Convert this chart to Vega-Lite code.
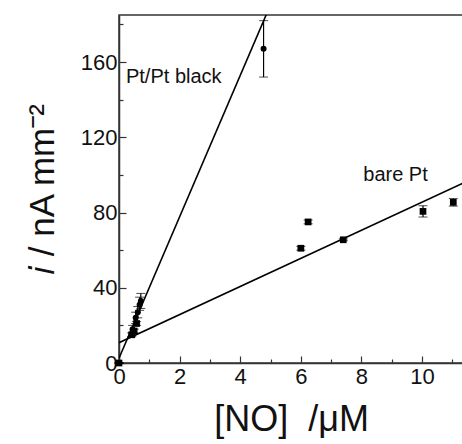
{
  "$schema": "https://vega.github.io/schema/vega-lite/v6.json",
  "autosize": "none",
  "width": 344,
  "height": 348,
  "padding": {"left": 119, "top": 15, "right": 0, "bottom": 81},
  "background": "white",
  "config": {
    "font": "Liberation Sans",
    "view": {"stroke": "#333", "strokeWidth": 1.5}
  },
  "datasets": {
    "points": [
      {"series": "Pt/Pt black", "x": 0, "y": 0, "lo": 0, "hi": 0},
      {"series": "Pt/Pt black", "x": 0.45, "y": 18, "lo": 16, "hi": 20},
      {"series": "Pt/Pt black", "x": 0.55, "y": 24, "lo": 21, "hi": 27},
      {"series": "Pt/Pt black", "x": 0.62, "y": 27, "lo": 24, "hi": 30},
      {"series": "Pt/Pt black", "x": 0.68, "y": 31, "lo": 28, "hi": 35},
      {"series": "Pt/Pt black", "x": 0.72, "y": 33, "lo": 29, "hi": 37},
      {"series": "Pt/Pt black", "x": 4.77, "y": 167, "lo": 152, "hi": 182},
      {"series": "bare Pt", "x": 0, "y": 0, "lo": 0, "hi": 0},
      {"series": "bare Pt", "x": 0.42, "y": 15, "lo": 14, "hi": 16},
      {"series": "bare Pt", "x": 0.5, "y": 17, "lo": 16, "hi": 18},
      {"series": "bare Pt", "x": 0.58, "y": 21, "lo": 20, "hi": 22},
      {"series": "bare Pt", "x": 6.0, "y": 61, "lo": 60, "hi": 62},
      {"series": "bare Pt", "x": 6.24, "y": 75, "lo": 74, "hi": 76},
      {"series": "bare Pt", "x": 7.4, "y": 65.5, "lo": 65, "hi": 66},
      {"series": "bare Pt", "x": 10.03, "y": 80.6, "lo": 77.6, "hi": 83.6},
      {"series": "bare Pt", "x": 11.03, "y": 85.4, "lo": 83.4, "hi": 87.4}
    ],
    "fits": [
      {"fit": "Pt/Pt black", "x": 0, "y": 2.5},
      {"fit": "Pt/Pt black", "x": 4.95, "y": 188.6},
      {"fit": "bare Pt", "x": 0, "y": 10.8},
      {"fit": "bare Pt", "x": 11.35, "y": 95.6}
    ],
    "labels": [
      {"text": "Pt/Pt black", "x": 0.23, "y": 152},
      {"text": "bare Pt", "x": 8.06, "y": 99.7}
    ]
  },
  "encoding": {
    "x": {
      "field": "x", "type": "quantitative",
      "scale": {"domain": [0, 11.35], "nice": false, "zero": false},
      "axis": {
        "values": [0, 1, 2, 3, 4, 5, 6, 7, 8, 9, 10, 11],
        "labelExpr": "datum.value % 2 === 0 ? datum.label : ''",
        "tickSize": {"condition": {"test": "datum.value % 2 === 0", "value": -7}, "value": -4},
        "tickColor": "#333", "tickWidth": 1.2,
        "domainColor": "#333", "domainWidth": 1.5,
        "grid": false,
        "labelFontSize": 22, "labelColor": "#111", "labelPadding": 10, "labelFlush": false,
        "title": "[NO]\u00a0 /μM", "titleFontSize": 36, "titleFontWeight": "normal", "titleColor": "#111", "titlePadding": 15
      }
    },
    "y": {
      "field": "y", "type": "quantitative",
      "scale": {"domain": [0, 185], "nice": false, "zero": false},
      "axis": {
        "values": [0, 20, 40, 60, 80, 100, 120, 140, 160, 180],
        "labelExpr": "datum.value % 40 === 0 ? datum.label : ''",
        "tickSize": {"condition": {"test": "datum.value % 40 === 0", "value": -7}, "value": -4},
        "tickColor": "#333", "tickWidth": 1.2,
        "domainColor": "#333", "domainWidth": 1.5,
        "grid": false,
        "labelFontSize": 22, "labelColor": "#111", "labelPadding": 9, "labelFlush": false,
        "title": "𝑖 / nA mm⁻²", "titleFontSize": 35, "titleFontWeight": "normal", "titleColor": "#111", "titlePadding": 20
      }
    }
  },
  "layer": [
    {
      "data": {"name": "fits"},
      "mark": {"type": "line", "color": "black", "strokeWidth": 1.6, "clip": true},
      "encoding": {"detail": {"field": "fit"}}
    },
    {
      "data": {"name": "points"},
      "mark": {"type": "errorbar", "color": "black", "ticks": {"size": 9, "color": "black"}, "rule": {"strokeWidth": 1.2}},
      "encoding": {
        "y": {"field": "lo", "type": "quantitative"},
        "y2": {"field": "hi"}
      }
    },
    {
      "data": {"name": "points"},
      "mark": {"type": "point", "filled": true, "opacity": 1, "color": "black"},
      "encoding": {
        "shape": {"field": "series", "type": "nominal", "scale": {"domain": ["Pt/Pt black", "bare Pt"], "range": ["circle", "square"]}, "legend": null},
        "size": {"field": "series", "type": "nominal", "scale": {"domain": ["Pt/Pt black", "bare Pt"], "range": [36, 45]}, "legend": null}
      }
    },
    {
      "data": {"name": "labels"},
      "mark": {"type": "text", "align": "left", "baseline": "middle", "fontSize": 20, "color": "#111"},
      "encoding": {"text": {"field": "text"}}
    }
  ]
}
